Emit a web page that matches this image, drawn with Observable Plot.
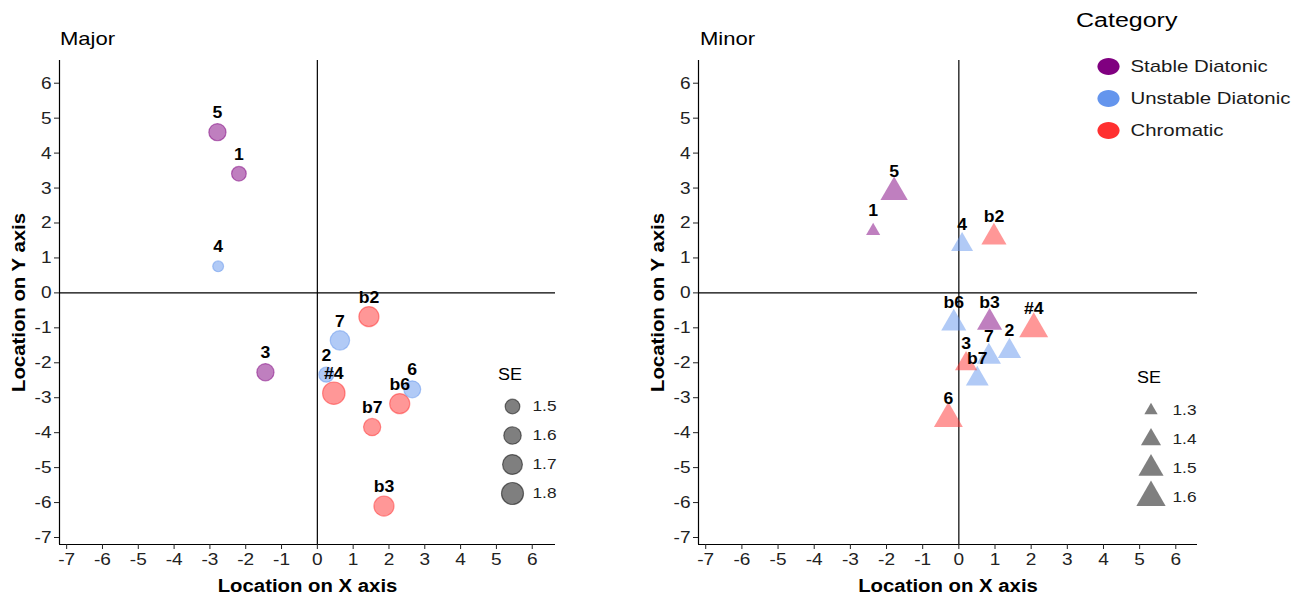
<!DOCTYPE html>
<html><head><meta charset="utf-8">
<script src="https://cdn.jsdelivr.net/npm/d3@7"></script>
<script src="https://cdn.jsdelivr.net/npm/@observablehq/plot@0.6"></script>
<style>
body{margin:0;background:#fff;font-family:"Liberation Sans",Arial,sans-serif;}
#root{position:relative;width:1309px;height:599px;overflow:hidden;background:#fff;}
.abs{position:absolute;line-height:1;white-space:nowrap;transform-origin:0 50%;}
svg text{font-family:"Liberation Sans",Arial,sans-serif;}
g[aria-label="x-axis label"] text, g[aria-label="y-axis label"] text{font-weight:bold;font-size:18px;fill:#000;}
</style></head><body><div id="root"></div>
<script>
// ---- data ----
const categories = ["Stable Diatonic", "Unstable Diatonic", "Chromatic"];
const categoryColors = ["#800080", "#6495ED", "#FF3030"];
const axisTicks = [-7, -6, -5, -4, -3, -2, -1, 0, 1, 2, 3, 4, 5, 6];

const majorLabels   = ["5", "1", "4", "3", "7", "2", "b2", "#4", "6", "b6", "b7", "b3"];
const majorX        = [-2.79, -2.19, -2.77, -1.45, 0.63, 0.25, 1.44, 0.46, 2.65, 2.30, 1.53, 1.86];
const majorY        = [4.60, 3.41, 0.76, -2.27, -1.36, -2.34, -0.68, -2.87, -2.76, -3.17, -3.84, -6.10];
const majorSE       = [1.59, 1.50, 1.39, 1.59, 1.68, 1.51, 1.71, 1.82, 1.58, 1.71, 1.59, 1.71];
const majorCategory = ["Stable Diatonic", "Stable Diatonic", "Unstable Diatonic", "Stable Diatonic",
  "Unstable Diatonic", "Unstable Diatonic", "Chromatic", "Chromatic", "Unstable Diatonic",
  "Chromatic", "Chromatic", "Chromatic"];
const majorSEBreaks = [1.5, 1.6, 1.7, 1.8];

const minorLabels   = ["5", "1", "4", "b2", "b6", "b3", "#4", "2", "7", "3", "b7", "6"];
const minorX        = [-1.79, -2.37, 0.09, 0.97, -0.14, 0.85, 2.07, 1.40, 0.83, 0.20, 0.51, -0.29];
const minorY        = [2.88, 1.77, 1.38, 1.59, -0.87, -0.85, -1.03, -1.67, -1.83, -2.03, -2.46, -3.60];
const minorSE       = [1.55, 1.31, 1.435, 1.50, 1.50, 1.50, 1.59, 1.46, 1.48, 1.44, 1.45, 1.59];
const minorCategory = ["Stable Diatonic", "Stable Diatonic", "Unstable Diatonic", "Chromatic",
  "Unstable Diatonic", "Stable Diatonic", "Chromatic", "Unstable Diatonic", "Unstable Diatonic",
  "Chromatic", "Unstable Diatonic", "Chromatic"];
const minorSEBreaks = [1.3, 1.4, 1.5, 1.6];

// ---- build ----
const root = document.getElementById("root");
const yDomain = [-7.2, 6.65];
const colorScale = {domain: categories, range: categoryColors};
const circleR = {type: "sqrt", transform: v => v - 1.258, domain: [0, 1], range: [0, 14.94]};
const triR = {type: "sqrt", transform: v => v - 1.222, domain: [0, 1], range: [0, 17.69]};

// ellipse-shaped legend key (as in the reference legend)
const ellipseSymbol = {
  draw(ctx, size) {
    const r = Math.sqrt(size / Math.PI), rx = r * 1.3, ry = r, k = 0.5523;
    ctx.moveTo(rx, 0);
    ctx.bezierCurveTo(rx, ry * k, rx * k, ry, 0, ry);
    ctx.bezierCurveTo(-rx * k, ry, -rx, ry * k, -rx, 0);
    ctx.bezierCurveTo(-rx, -ry * k, -rx * k, -ry, 0, -ry);
    ctx.bezierCurveTo(rx * k, -ry, rx, -ry * k, rx, 0);
    ctx.closePath();
  }
};

function rows(labels, xs, ys, se, cat) {
  return labels.map((label, i) => ({label, x: xs[i], y: ys[i], se: se[i], category: cat[i]}));
}

// horizontal text stretch to mimic the wide glyphs of the reference
function stretch(node, selector, factor) {
  node.querySelectorAll(selector).forEach(t => {
    const len = t.getComputedTextLength();
    if (len > 0) {
      t.setAttribute("textLength", (len * factor).toFixed(2));
      t.setAttribute("lengthAdjust", "spacingAndGlyphs");
    }
  });
}

function place(node, left, top) {
  node.style.position = "absolute";
  node.style.left = left + "px";
  node.style.top = top + "px";
  root.appendChild(node);
  return node;
}
function label(text, left, top, size, sx, extra) {
  const d = document.createElement("div");
  d.className = "abs";
  d.textContent = text;
  d.style.left = left + "px";
  d.style.top = top + "px";
  d.style.fontSize = size + "px";
  d.style.color = "#000";
  d.style.transform = `scaleX(${sx})`;
  if (extra) Object.assign(d.style, extra);
  root.appendChild(d);
}

function panel(points, opts) {
  const isTri = opts.symbol === "triangle";
  return Plot.plot({
    width: opts.width, height: 599,
    marginLeft: opts.marginLeft, marginRight: opts.marginRight, marginTop: 60, marginBottom: 55,
    x: {domain: opts.xDomain}, y: {domain: yDomain},
    r: opts.r, color: colorScale,
    style: {background: "transparent", overflow: "visible"},
    marks: [
      Plot.ruleX([0], {stroke: "#000", strokeWidth: 1.2}),
      Plot.ruleY([0], {stroke: "#000", strokeWidth: 1.2}),
      Plot.ruleX([opts.xDomain[0]], {stroke: "#000", strokeWidth: 1.2}),
      Plot.ruleY([yDomain[0]], {stroke: "#000", strokeWidth: 1.2}),
      Plot.axisX({ticks: axisTicks, tickFormat: d => String(d), tickSize: 5, tickPadding: 3,
        fontSize: 17, color: "#222", label: "Location on X axis", labelAnchor: "center", labelOffset: 47, labelArrow: "none"}),
      Plot.axisY({ticks: axisTicks, tickFormat: d => String(d), tickSize: 5, tickPadding: 3,
        fontSize: 17, color: "#222", label: "Location on Y axis", labelAnchor: "center", labelOffset: 47, labelArrow: "none"}),
      Plot.dot(points, {x: "x", y: "y", r: "se", symbol: opts.symbol, fill: "category", fillOpacity: 0.5,
        stroke: isTri ? null : "category", strokeOpacity: 0.5, strokeWidth: 1.2}),
      Plot.text(points, {x: "x", y: "y", text: "label", dy: opts.dy, fontWeight: "bold", fontSize: 16, fill: "#000"})
    ]
  });
}

function seLegend(breaks, opts) {
  return Plot.plot({
    width: 100, height: 120, marginLeft: 0, marginRight: 0, marginTop: opts.mt, marginBottom: opts.mb,
    x: {axis: null}, y: {type: "point", domain: breaks, padding: 0, axis: null},
    r: opts.r,
    style: {background: "transparent", overflow: "visible"},
    marks: [
      Plot.dot(breaks, {y: d => d, r: d => d, symbol: opts.symbol, frameAnchor: "left", dx: opts.dx,
        fill: "#000", fillOpacity: 0.5, stroke: opts.symbol === "triangle" ? null : "#000", strokeOpacity: 0.5, strokeWidth: 1.2}),
      Plot.text(breaks, {y: d => d, text: d => d.toFixed(1), frameAnchor: "left", dx: opts.tdx,
        textAnchor: "start", fontSize: 15, fill: "#222"})
    ]
  });
}

const majorPts = rows(majorLabels, majorX, majorY, majorSE, majorCategory);
const minorPts = rows(minorLabels, minorX, minorY, minorSE, minorCategory);

const pMajor = place(panel(majorPts, {width: 580, marginLeft: 59, marginRight: 25, xDomain: [-7.2, 6.65],
  symbol: "circle", r: circleR, dy: -19}), 0, 0);
const pMinor = place(panel(minorPts, {width: 669, marginLeft: 58, marginRight: 112, xDomain: [-7.2, 6.6],
  symbol: "triangle", r: triR, dy: -20}), 640, 0);
for (const p of [pMajor, pMinor]) {
  stretch(p, 'g[aria-label="x-axis label"] text, g[aria-label="y-axis label"] text', 1.13);
  stretch(p, 'g[aria-label="x-axis tick label"] text, g[aria-label="y-axis tick label"] text', 1.12);
  stretch(p, 'g[aria-label="text"] text', 1.1);
}

label("Major", 60, 29, 19, 1.16);
label("Minor", 700, 29, 19, 1.16);

// SE legends
label("SE", 498, 367, 16, 1.12);
const l1 = place(seLegend(majorSEBreaks, {mt: 16, mb: 17, dx: 42, tdx: 62, symbol: "circle", r: circleR}), 470, 390);
label("SE", 1137, 370, 16, 1.12);
const l2 = place(seLegend(minorSEBreaks, {mt: 20, mb: 13, dx: 40.5, tdx: 62, symbol: "triangle", r: triR}), 1110, 390);
stretch(l1, "text", 1.15);
stretch(l2, "text", 1.15);

// Category legend
label("Category", 1076, 10, 20, 1.25);
const lc = place(Plot.plot({
  width: 224, height: 110, marginLeft: 0, marginRight: 0, marginTop: 26, marginBottom: 20,
  x: {axis: null}, y: {type: "point", domain: categories, padding: 0, axis: null},
  color: colorScale,
  style: {background: "transparent", overflow: "visible"},
  marks: [
    Plot.dot(categories, {y: d => d, fill: d => d, r: 8.5, symbol: ellipseSymbol, frameAnchor: "left", dx: 23}),
    Plot.text(categories, {y: d => d, text: d => d, frameAnchor: "left", dx: 45, textAnchor: "start", fontSize: 17, fill: "#1a1a1a"})
  ]
}), 1085, 40);
stretch(lc, "text", 1.2);
</script>
</body></html>
